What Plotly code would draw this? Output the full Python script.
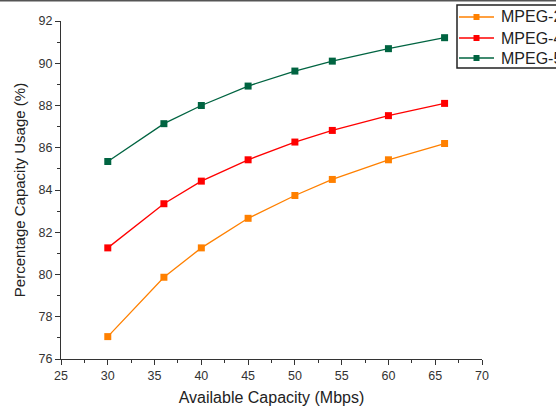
import plotly.graph_objects as go

capacity = [30, 36, 40, 45, 50, 54, 60, 66]
mpeg2 = [77.06, 79.87, 81.26, 82.66, 83.74, 84.50, 85.43, 86.20]
mpeg4 = [81.26, 83.35, 84.42, 85.43, 86.27, 86.82, 87.52, 88.10]
mpeg5 = [85.35, 87.14, 88.00, 88.92, 89.63, 90.10, 90.69, 91.21]
names = ["MPEG-2", "MPEG-4", "MPEG-5"]
colors = ["#FF8000", "#FF0000", "#006441"]

W, H = 556, 408
ML, MR, MT, MB = 61, 74, 21, 49
PW, PH = W - ML - MR, H - MT - MB


def px(x):
    return (x - ML) / PW


def py(y):
    return 1 - (y - MT) / PH


fig = go.Figure()
for name, vals, c in zip(names, [mpeg2, mpeg4, mpeg5], colors):
    fig.add_trace(go.Scatter(
        x=capacity, y=vals, name=name, mode="lines+markers",
        line=dict(color=c, width=1.3),
        marker=dict(symbol="square", size=7, color=c),
        showlegend=False,
    ))

font = "Liberation Sans, Arial, sans-serif"

shapes = [
    dict(type="line", xref="paper", yref="paper", x0=px(-10), x1=px(W + 10),
         y0=py(0.5), y1=py(0.5), line=dict(color="#555", width=2)),
    dict(type="rect", xref="paper", yref="paper", x0=px(457), x1=px(W + 20),
         y0=py(68), y1=py(5), line=dict(color="#222", width=1.5), fillcolor="white"),
]
annotations = []
rows = [17, 38, 58]
for name, c, ry in zip(names, colors, rows):
    shapes.append(dict(type="line", xref="paper", yref="paper", x0=px(459), x1=px(494),
                       y0=py(ry), y1=py(ry), line=dict(color=c, width=1.3)))
    shapes.append(dict(type="rect", xref="paper", yref="paper", x0=px(473.5), x1=px(479.5),
                       y0=py(ry + 3), y1=py(ry - 3), line=dict(width=0), fillcolor=c))
    annotations.append(dict(text=name, xref="paper", yref="paper", x=px(499), y=py(ry),
                            xanchor="left", yanchor="middle", showarrow=False,
                            font=dict(size=16, family=font, color="#222")))

fig.update_layout(
    width=W, height=H,
    margin=dict(l=ML, r=MR, t=MT, b=MB, autoexpand=False),
    paper_bgcolor="white", plot_bgcolor="white",
    font=dict(family=font, color="#222"),
    showlegend=False,
    xaxis=dict(
        range=[25, 70], dtick=5, tick0=25,
        showgrid=False, zeroline=False,
        showline=True, linecolor="#333", linewidth=1,
        ticks="outside", ticklen=5, tickcolor="#333",
        tickfont=dict(size=12.5, color="#333"),
        minor=dict(dtick=2.5, ticks="outside", ticklen=3, tickcolor="#333", showgrid=False),
        title=dict(text="Available Capacity (Mbps)", font=dict(size=16, color="#222"), standoff=9),
    ),
    yaxis=dict(
        range=[76, 92], dtick=2, tick0=76,
        showgrid=False, zeroline=False,
        showline=True, linecolor="#333", linewidth=1,
        ticks="outside", ticklen=5, tickcolor="#333",
        tickfont=dict(size=12.5, color="#333"),
        minor=dict(dtick=1, ticks="outside", ticklen=3, tickcolor="#333", showgrid=False),
        title=dict(text="Percentage Capacity Usage (%)", font=dict(size=15, color="#222"), standoff=9),
    ),
    shapes=shapes,
    annotations=annotations,
)

fig.write_html("out.html")
